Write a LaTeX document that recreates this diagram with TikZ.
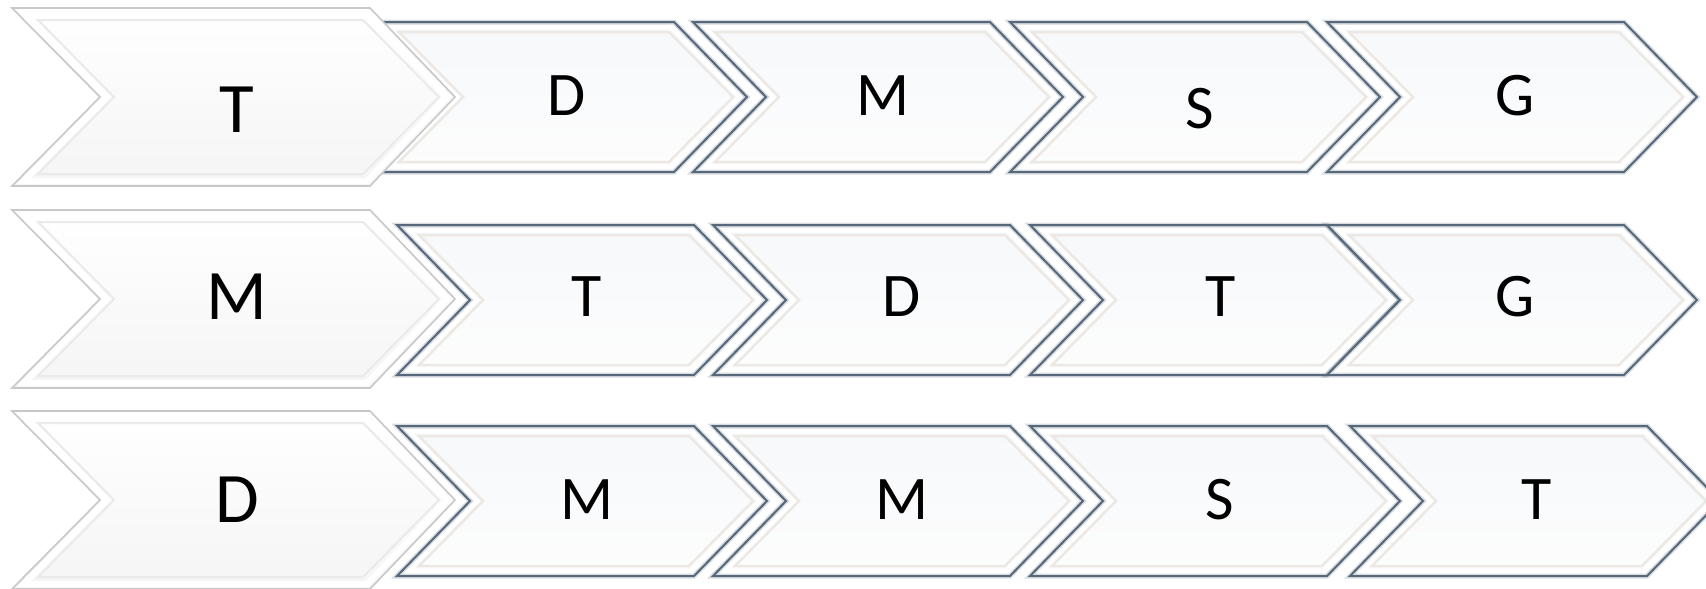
\documentclass[tikz,border=0pt]{standalone}
\usepackage{fontspec}
\setmainfont{Carlito}
\definecolor{chevborder}{HTML}{56687A}
\definecolor{chevfilltop}{HTML}{F6F8FA}
\definecolor{chevfillbot}{HTML}{FDFDFD}
\definecolor{bevel}{HTML}{ECE9E4}
\definecolor{bigborder}{HTML}{C8C8C8}
\definecolor{bigbevel}{HTML}{EAEAEA}
\tikzset{
  x=1pt, y=-1pt,
  lbl/.style={inner sep=0pt, font=\fontsize{62}{62}\selectfont, text=black},
  biglbl/.style={inner sep=0pt, font=\fontsize{71}{71}\selectfont, text=black},
  smallchev/.pic={
    \path[top color=chevfilltop, bottom color=chevfillbot]
      (0,-75) -- (297,-75) -- (370,0) -- (297,75) -- (0,75) -- (73,0) -- cycle;
    \draw[white, line width=5pt, line join=miter]
      (11,-70) -- (295,-70) -- (363,0) -- (295,70) -- (11,70) -- (80,0) -- cycle;
    \draw[bevel, line width=2.5pt, line join=miter]
      (22,-65) -- (292,-65) -- (356,0) -- (292,65) -- (22,65) -- (86,0) -- cycle;
    \draw[chevborder, line width=5pt, opacity=0.22, line join=miter]
      (0,-75) -- (297,-75) -- (370,0) -- (297,75) -- (0,75) -- (73,0) -- cycle;
    \draw[chevborder, line width=2pt, line join=miter]
      (0,-75) -- (297,-75) -- (370,0) -- (297,75) -- (0,75) -- (73,0) -- cycle;
  },
  bigchev/.pic={
    \path[top color=white, bottom color=black!4]
      (0,-89) -- (358,-89) -- (443,0) -- (358,89) -- (0,89) -- (88,0) -- cycle;
    \draw[white, line width=6pt, line join=miter]
      (12,-84) -- (355,-84) -- (435,0) -- (355,84) -- (12,84) -- (95,0) -- cycle;
    \draw[bigbevel, line width=2pt, line join=miter]
      (26,-77) -- (351,-77) -- (427,0) -- (351,77) -- (26,77) -- (102,0) -- cycle;
    \draw[bigborder, line width=1.6pt, line join=miter]
      (0,-89) -- (358,-89) -- (443,0) -- (358,89) -- (0,89) -- (88,0) -- cycle;
  },
}
\begin{document}
\begin{tikzpicture}
\useasboundingbox[fill=white] (0,0) rectangle (1706,589);
% Row 1
\pic at (377,97) {smallchev};
\pic at (693,97) {smallchev};
\pic at (1010,97) {smallchev};
\pic at (1327,97) {smallchev};
\pic at (12,97) {bigchev};
% Row 2
\pic at (397,300) {smallchev};
\pic at (713,300) {smallchev};
\pic at (1030,300) {smallchev};
\pic at (1327,300) {smallchev};
\pic at (12,299) {bigchev};
% Row 3
\pic at (397,501) {smallchev};
\pic at (713,501) {smallchev};
\pic at (1030,501) {smallchev};
\pic at (1350,501) {smallchev};
\pic at (12,500) {bigchev};
% Labels row 1
\node[biglbl] (a0) at (237,110) {T};
\node[lbl] (a1) at (567,96) {D};
\node[lbl] (a2) at (883,96) {M};
\node[lbl] (a3) at (1200,109) {S};
\node[lbl] (a4) at (1515,96) {G};
% Labels row 2
\node[biglbl] (b0) at (237,297) {M};
\node[lbl] (b1) at (587,297) {T};
\node[lbl] (b2) at (902,297) {D};
\node[lbl] (b3) at (1221,297) {T};
\node[lbl] (b4) at (1515,297) {G};
% Labels row 3
\node[biglbl] (c0) at (237,500) {D};
\node[lbl] (c1) at (587,500) {M};
\node[lbl] (c2) at (902,500) {M};
\node[lbl] (c3) at (1220,500) {S};
\node[lbl] (c4) at (1537,500) {T};
\end{tikzpicture}
\end{document}
